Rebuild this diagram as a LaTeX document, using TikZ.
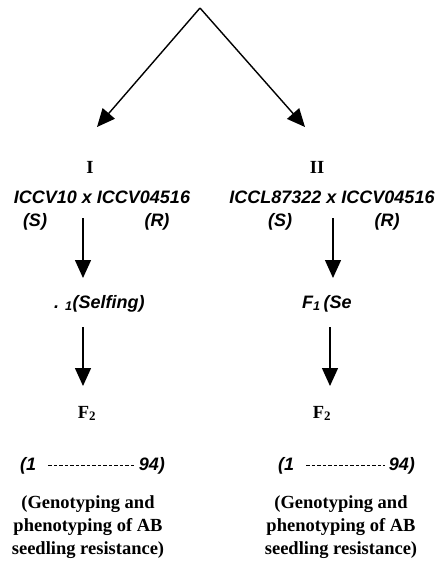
\documentclass[tikz,border=0pt]{standalone}
\usepackage{fontspec}
\setmainfont{Liberation Serif}
\newfontfamily\arialf{Liberation Sans}
\usetikzlibrary{arrows.meta}
\begin{document}
\begin{tikzpicture}[x=1pt,y=-1pt,
  sansit/.style={font=\arialf\bfseries\itshape\fontsize{18}{20}\selectfont, inner sep=0pt},
  serifb/.style={font=\bfseries\fontsize{18.5}{23}\selectfont, inner sep=0pt},
  arr/.style={line width=1.4pt, -{Triangle[length=18pt,width=16pt]}},
  dashrow/.style={line width=1.1pt, dash pattern=on 3.5pt off 2pt}]
\useasboundingbox (0,0) rectangle (447,562);
% top split
\coordinate (apex) at (200,8);
\coordinate (tipI) at (97,127);
\coordinate (tipII) at (305,127);
\draw[arr] (apex) -- (tipI);
\draw[arr] (apex) -- (tipII);
% column I
\node[serifb, anchor=base] (romI) at (90,173) {I};
\node[sansit, anchor=base] (crossI) at (102,203) {ICCV10 x ICCV04516};
\node[sansit, anchor=base] (sI) at (35,226) {(S)};
\node[sansit, anchor=base] (rI) at (157,226) {(R)};
\coordinate (aIs) at (83,218);
\coordinate (aIe) at (83,278);
\draw[arr] (aIs) -- (aIe);
\node[sansit, anchor=base west] (selfI) at (54,308) {.\hspace{6pt}\textsubscript{1}(Selfing)};
\coordinate (bIs) at (83,327);
\coordinate (bIe) at (83,386);
\draw[arr] (bIs) -- (bIe);
\node[serifb, anchor=base] (ftwoI) at (87,418) {F\textsubscript{2}};
\node[sansit, anchor=base west] (oneI) at (20,470) {(1};
\node[sansit, anchor=base east] (endI) at (165,470) {94)};
\draw[dashrow] ([xshift=12pt]oneI.east) -- ([xshift=-4pt]endI.west);
\node[serifb, anchor=base] (gI1) at (88,508) {(Genotyping and};
\node[serifb, anchor=base] (gI2) at (88,531) {phenotyping of AB};
\node[serifb, anchor=base] (gI3) at (88,554) {seedling resistance)};
% column II
\node[serifb, anchor=base] (romII) at (317,173) {II};
\node[sansit, anchor=base] (crossII) at (332,203) {ICCL87322 x ICCV04516};
\node[sansit, anchor=base] (sII) at (280,226) {(S)};
\node[sansit, anchor=base] (rII) at (387,226) {(R)};
\coordinate (aIIs) at (333,218);
\coordinate (aIIe) at (333,278);
\draw[arr] (aIIs) -- (aIIe);
\node[sansit, anchor=base west] (selfII) at (302,308) {F\textsubscript{1}\hspace{3pt}(Se};
\coordinate (bIIs) at (330,327);
\coordinate (bIIe) at (330,386);
\draw[arr] (bIIs) -- (bIIe);
\node[serifb, anchor=base] (ftwoII) at (322,418) {F\textsubscript{2}};
\node[sansit, anchor=base west] (oneII) at (278,470) {(1};
\node[sansit, anchor=base east] (endII) at (415,470) {94)};
\draw[dashrow] ([xshift=12pt]oneII.east) -- ([xshift=-4pt]endII.west);
\node[serifb, anchor=base] (gII1) at (341,508) {(Genotyping and};
\node[serifb, anchor=base] (gII2) at (341,531) {phenotyping of AB};
\node[serifb, anchor=base] (gII3) at (341,554) {seedling resistance)};
\end{tikzpicture}
\end{document}
